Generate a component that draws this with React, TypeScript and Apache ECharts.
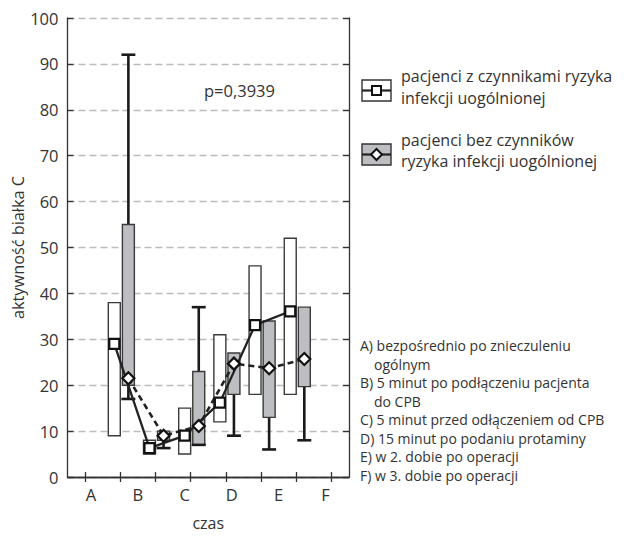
import React, { useEffect, useRef } from "react";
import * as echarts from "echarts";

// tick slots along the x axis (8 equal slots, ticks at their centres)
const tickSlots = ["s1", "s2", "s3", "s4", "s5", "s6", "s7", "s8"];
// time-point labels
const timeLabels = ["A", "B", "C", "D", "E", "F"];
// slot index (0-based) of each measured time point
const pointSlots = [1, 2, 3, 4, 5, 6];

// group 1: pacjenci z czynnikami ryzyka (white boxes, squares, solid line)
const riskBoxLow = [9, 5, 5, 12, 18, 18];
const riskBoxHigh = [38, 8, 15, 31, 46, 52];
const riskMedian = [29, 6.3, 9, 16.2, 33.1, 36.1];

// group 2: pacjenci bez czynników ryzyka (grey boxes, diamonds, dashed line)
const noRiskBoxLow = [20, 8, 7, 18, 13, 19.7];
const noRiskBoxHigh = [55, 10, 23, 27, 34, 37];
const noRiskMedian = [21.5, 9, 11.1, 24.7, 23.7, 25.7];
const noRiskWhiskerLow = [17, 6.3, 7, 9, 6, 8];
const noRiskWhiskerHigh: (number | null)[] = [92, null, 37, null, null, null];

const yTicks = { min: 0, max: 100, interval: 10 };

const legendLines1 = ["pacjenci z czynnikami ryzyka", "infekcji uogólnionej"];
const legendLines2 = ["pacjenci bez czynników", "ryzyka infekcji uogólnionej"];
const noteLines = [
  "A) bezpośrednio po znieczuleniu",
  "   ogólnym",
  "B) 5 minut po podłączeniu pacjenta",
  "   do CPB",
  "C) 5 minut przed odłączeniem od CPB",
  "D) 15 minut po podaniu protaminy",
  "E) w 2. dobie po operacji",
  "F) w 3. dobie po operacji",
];
const pValueText = "p=0,3939";

const FONT = "'Open Sans', 'Noto Sans', sans-serif";
const TEXT = "#333";
const WHITE_OFF = -0.17;
const GREY_OFF = 0.23;
const BOX_W = 0.34;

function boxSeries(
  name: string,
  offset: number,
  lows: number[],
  highs: number[],
  wLow: (number | null)[] | null,
  wHigh: (number | null)[] | null,
  fill: string
) {
  const data = pointSlots.map((s, i) => [s + 0.5 + offset, lows[i], highs[i]]);
  return {
    type: "custom",
    name,
    xAxisIndex: 3,
    yAxisIndex: 0,
    z: 2,
    data,
    renderItem: (params: any, api: any) => {
      const i = params.dataIndex;
      const x = api.value(0);
      const lo = api.value(1);
      const hi = api.value(2);
      const w = api.size([BOX_W, 0])[0];
      const pLo = api.coord([x, lo]);
      const pHi = api.coord([x, hi]);
      const cx = pLo[0];
      const children: any[] = [];
      const wStyle = { stroke: "#1a1a1a", lineWidth: 2.6 };
      const capW = w + 2;
      const wl = wLow ? wLow[i] : null;
      const wh = wHigh ? wHigh[i] : null;
      if (wh != null) {
        const p = api.coord([x, wh]);
        children.push({ type: "line", shape: { x1: cx, y1: pHi[1], x2: cx, y2: p[1] }, style: wStyle });
        children.push({ type: "line", shape: { x1: cx - capW / 2, y1: p[1], x2: cx + capW / 2, y2: p[1] }, style: wStyle });
      }
      if (wl != null) {
        const p = api.coord([x, wl]);
        children.push({ type: "line", shape: { x1: cx, y1: pLo[1], x2: cx, y2: p[1] }, style: wStyle });
      }
      children.push({
        type: "rect",
        shape: { x: cx - w / 2, y: pHi[1], width: w, height: pLo[1] - pHi[1] },
        style: { fill, stroke: "#3a3a3a", lineWidth: 1.4 },
      });
      if (wl != null) {
        const p = api.coord([x, wl]);
        children.push({ type: "line", shape: { x1: cx - capW / 2, y1: p[1], x2: cx + capW / 2, y2: p[1] }, style: wStyle });
      }
      return { type: "group", children };
    },
  };
}

export default function App() {
  const ref = useRef<HTMLDivElement>(null);
  useEffect(() => {
    if (!ref.current) return;
    const chart = echarts.init(ref.current, null, { renderer: "svg" });
    const frameLine = { show: true, lineStyle: { color: "#333", width: 1.3 } };
    const option: any = {
      animation: false,
      backgroundColor: "#fff",
      textStyle: { fontFamily: FONT },
      grid: { left: 67.5, right: 277, top: 18, bottom: 52.5, containLabel: false },
      xAxis: [
        {
          type: "category",
          data: tickSlots,
          position: "bottom",
          axisLine: frameLine,
          axisTick: { show: true, inside: true, alignWithLabel: true, length: 5, lineStyle: { color: "#333", width: 1.3 } },
          axisLabel: { show: false },
          splitLine: { show: false },
        },
        {
          type: "category",
          data: tickSlots,
          position: "top",
          axisLine: frameLine,
          axisTick: { show: true, inside: true, alignWithLabel: true, length: 5, lineStyle: { color: "#333", width: 1.3 } },
          axisLabel: { show: false },
          splitLine: { show: false },
        },
        {
          type: "category",
          data: timeLabels,
          position: "bottom",
          axisLine: { show: false },
          axisTick: { show: false },
          axisLabel: { show: true, fontSize: 16.5, color: TEXT, margin: 9, fontFamily: FONT },
          name: "czas",
          nameLocation: "middle",
          nameGap: 38,
          nameTextStyle: { fontSize: 16, color: TEXT, fontFamily: FONT },
          splitLine: { show: false },
        },
        {
          type: "value",
          min: 0,
          max: 8,
          show: false,
          position: "bottom",
        },
      ],
      yAxis: [
        {
          type: "value",
          min: yTicks.min,
          max: yTicks.max,
          interval: yTicks.interval,
          position: "left",
          axisLine: frameLine,
          axisTick: { show: true, inside: true, length: 6, lineStyle: { color: "#333", width: 1.3 } },
          axisLabel: { fontSize: 16.5, color: TEXT, margin: 9, fontFamily: FONT },
          splitLine: { show: true, lineStyle: { color: "#bbb", width: 1.3, type: [7, 4] } },
          name: "aktywność białka C",
          nameLocation: "middle",
          nameRotate: 90,
          nameGap: 41,
          nameTextStyle: { fontSize: 16.3, color: TEXT, fontFamily: FONT },
        },
        {
          type: "value",
          min: yTicks.min,
          max: yTicks.max,
          interval: yTicks.interval,
          position: "right",
          axisLine: frameLine,
          axisTick: { show: true, inside: true, length: 6, lineStyle: { color: "#333", width: 1.3 } },
          axisLabel: { show: false },
          splitLine: { show: false },
        },
      ],
      series: [
        boxSeries("box1", WHITE_OFF, riskBoxLow, riskBoxHigh, null, null, "#ffffff"),
        boxSeries("box2", GREY_OFF, noRiskBoxLow, noRiskBoxHigh, noRiskWhiskerLow, noRiskWhiskerHigh, "#bdbec1"),
        {
          type: "line",
          name: "pacjenci z czynnikami ryzyka infekcji uogólnionej",
          xAxisIndex: 3,
          yAxisIndex: 0,
          z: 5,
          data: pointSlots.map((s, i) => [s + 0.5 + WHITE_OFF, riskMedian[i]]),
          symbol: "rect",
          symbolSize: 10,
          showSymbol: true,
          lineStyle: { color: "#222", width: 2.3, type: "solid" },
          itemStyle: { color: "#fff", borderColor: "#111", borderWidth: 2.2 },
        },
        {
          type: "line",
          name: "pacjenci bez czynników ryzyka infekcji uogólnionej",
          xAxisIndex: 3,
          yAxisIndex: 0,
          z: 5,
          data: pointSlots.map((s, i) => [s + 0.5 + GREY_OFF, noRiskMedian[i]]),
          symbol: "diamond",
          symbolSize: 12,
          showSymbol: true,
          lineStyle: { color: "#222", width: 2.6, type: [6, 4] },
          itemStyle: { color: "#fff", borderColor: "#111", borderWidth: 2.2 },
        },
      ],
      graphic: [
        {
          type: "text",
          x: 204,
          y: 90,
          style: { text: pValueText, font: `16.5px ${FONT}`, fill: TEXT, textVerticalAlign: "middle", verticalAlign: "middle" },
        },
        // legend icon 1
        { type: "rect", shape: { x: 362, y: 80, width: 29, height: 21 }, style: { fill: "#fff", stroke: "#333", lineWidth: 1.4 } },
        { type: "line", shape: { x1: 362, y1: 90.5, x2: 391, y2: 90.5 }, style: { stroke: "#222", lineWidth: 2.2 } },
        { type: "rect", shape: { x: 372, y: 86, width: 9, height: 9 }, style: { fill: "#fff", stroke: "#111", lineWidth: 2 } },
        // legend icon 2
        { type: "rect", shape: { x: 362, y: 144, width: 29, height: 21 }, style: { fill: "#bdbec1", stroke: "#333", lineWidth: 1.4 } },
        { type: "line", shape: { x1: 362, y1: 154.5, x2: 391, y2: 154.5 }, style: { stroke: "#222", lineWidth: 2.2 } },
        {
          type: "polygon",
          shape: { points: [[376.5, 149], [382, 154.5], [376.5, 160], [371, 154.5]] },
          style: { fill: "#fff", stroke: "#111", lineWidth: 2 },
        },
        ...legendLines1.map((t, k) => ({
          type: "text",
          x: 401,
          y: 76 + k * 21.5,
          style: { text: t, font: `16px ${FONT}`, fill: TEXT, textVerticalAlign: "middle", verticalAlign: "middle" },
        })),
        ...legendLines2.map((t, k) => ({
          type: "text",
          x: 401,
          y: 139.5 + k * 21.5,
          style: { text: t, font: `16px ${FONT}`, fill: TEXT, textVerticalAlign: "middle", verticalAlign: "middle" },
        })),
        ...noteLines.map((t, k) => ({
          type: "text",
          x: t.startsWith("   ") ? 374 : 360,
          y: 345.5 + k * 18.5,
          style: { text: t.trim(), font: `14px ${FONT}`, fill: TEXT, textVerticalAlign: "middle", verticalAlign: "middle" },
        })),
      ],
    };
    chart.setOption(option);
    return () => chart.dispose();
  }, []);
  return <div ref={ref} style={{ width: 626, height: 536, position: "absolute", left: 0, top: 0 }} />;
}
